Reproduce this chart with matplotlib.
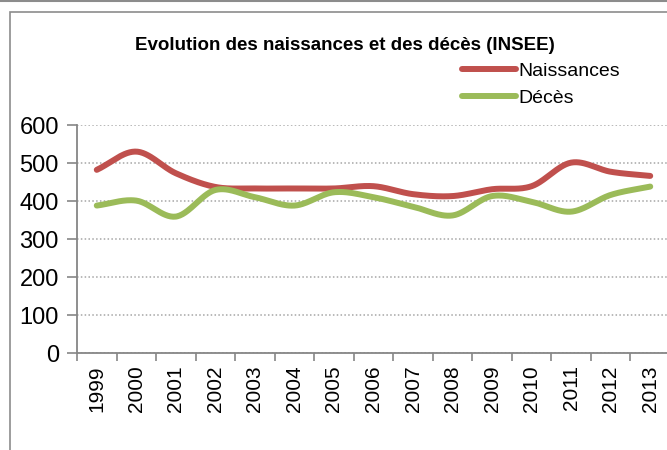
import numpy as np
import matplotlib
matplotlib.use("Agg")
import matplotlib.pyplot as plt
from matplotlib.lines import Line2D
from matplotlib.patches import Rectangle

# data
years = ["1999", "2000", "2001", "2002", "2003", "2004", "2005", "2006",
         "2007", "2008", "2009", "2010", "2011", "2012", "2013"]
naissances = [482, 530, 473, 437, 433, 433, 433, 439, 418, 413, 431, 439, 501, 477, 466]
deces = [388, 401, 359, 429, 410, 388, 423, 410, 385, 362, 413, 398, 372, 416, 438]

RED, GREEN, GRID, AXIS = "#C0504D", "#9BBB59", "#A6A6A6", "#868686"
FONT = ["Liberation Sans", "DejaVu Sans"]


def smooth(y, n=30):
    # Catmull-Rom curve through the points, like Excel's "smoothed line"
    y = np.asarray(y, float)
    x = np.arange(len(y), dtype=float)
    px = np.concatenate([[2 * x[0] - x[1]], x, [2 * x[-1] - x[-2]]])
    py = np.concatenate([[2 * y[0] - y[1]], y, [2 * y[-1] - y[-2]]])
    xs, ys = [], []
    t = np.linspace(0, 1, n, endpoint=False)
    for i in range(1, len(px) - 2):
        for arr, out in ((px, xs), (py, ys)):
            p0, p1, p2, p3 = arr[i - 1], arr[i], arr[i + 1], arr[i + 2]
            out.extend(0.5 * (2 * p1 + (-p0 + p2) * t + (2 * p0 - 5 * p1 + 4 * p2 - p3) * t ** 2
                              + (-p0 + 3 * p1 - 3 * p2 + p3) * t ** 3))
    xs.append(x[-1]); ys.append(y[-1])
    return np.array(xs), np.array(ys)


plt.rcParams["font.family"] = FONT

fig = plt.figure(figsize=(6.67, 4.5), dpi=100)
fig.patches.append(Rectangle((10 / 667, -0.1), 1.2, 1 - 12 / 450 + 0.1, transform=fig.transFigure,
                             fill=False, edgecolor="#8C8C8C", lw=1.2))
fig.add_artist(Line2D([0, 1], [1 - 1 / 450, 1 - 1 / 450], transform=fig.transFigure,
                      color="#8C8C8C", lw=1.5))

ax = fig.add_axes([77 / 667, 1 - 353 / 450, (670 - 77) / 667, (353 - 125) / 450])

x = np.arange(len(years))
sx, sy = smooth(naissances)
ax.plot(sx, sy, color=RED, lw=4.3, solid_capstyle="round", label="Naissances")
sx, sy = smooth(deces)
ax.plot(sx, sy, color=GREEN, lw=4.3, solid_capstyle="round", label="Décès")

ax.set_xlim(-0.5, len(years) - 0.5)
ax.set_ylim(0, 600)
ax.set_yticks(range(0, 601, 100))
ax.yaxis.grid(True, color=GRID, ls=(0, (1, 1.5)), lw=1.1)
ax.set_axisbelow(True)

ax.set_xticks(x)
ax.set_xticklabels(years, rotation=90, fontsize=15)
ax.set_xticks(np.arange(-0.5, len(years)), minor=True)
ax.tick_params(axis="x", which="major", length=0, pad=9)
ax.tick_params(axis="x", which="minor", length=6, color=AXIS, width=1.2)
ax.tick_params(axis="y", length=7, color=AXIS, width=1.2, pad=6, labelsize=17)

for side in ("top", "right"):
    ax.spines[side].set_visible(False)
for side in ("left", "bottom"):
    ax.spines[side].set_color(AXIS)
    ax.spines[side].set_linewidth(1.3)

fig.text(345 / 667, 1 - 45 / 450, "Evolution des naissances et des décès (INSEE)",
         ha="center", va="center", fontsize=13.5, fontweight="bold")

fig.legend(loc="upper left", bbox_to_anchor=(462 / 667, 1 - 62 / 450),
           prop={"size": 14}, frameon=False,
           handlelength=2.8, handletextpad=0.1, labelspacing=0.5,
           borderpad=0, borderaxespad=0)

fig.savefig("out.png", dpi=100)
